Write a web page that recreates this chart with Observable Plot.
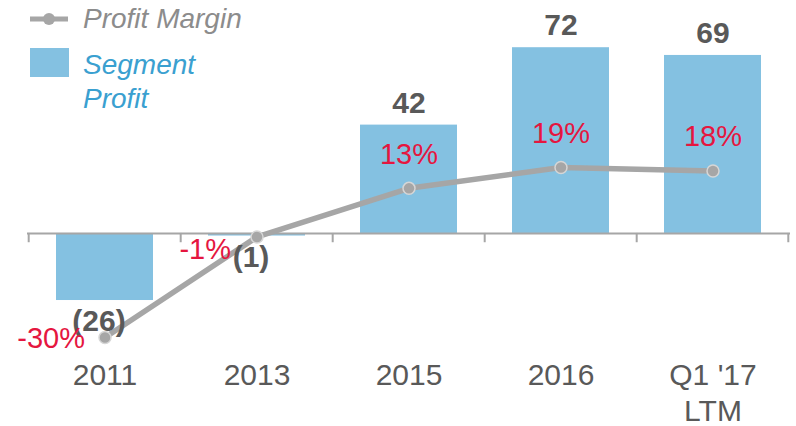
<!DOCTYPE html>
<html>
<head>
<meta charset="utf-8">
<script src="https://cdn.jsdelivr.net/npm/d3@7"></script>
<script src="https://cdn.jsdelivr.net/npm/@observablehq/plot@0.6"></script>
<style>
  html, body { margin: 0; padding: 0; background: #fff; }
  #wrap { position: relative; width: 796px; height: 426px; font-family: "Liberation Sans", Arial, sans-serif; }
  #legend { position: absolute; left: 0; top: 0; width: 260px; height: 120px; pointer-events: none; }
</style>
</head>
<body>
<div id="wrap"></div>
<script>
// ---- data ----
const categories = ["2011", "2013", "2015", "2016", "Q1 '17 LTM"];
const xLabels = ["2011", "2013", "2015", "2016", "Q1 '17\nLTM"];
const segmentProfit = [-26, -1, 42, 72, 69];
const segmentProfitLabels = ["(26)", "(1)", "42", "72", "69"];
const profitMargin = [-30, -1, 13, 19, 18];
const profitMarginLabels = ["-30%", "-1%", "13%", "19%", "18%"];
const legendLabels = ["Profit Margin", "Segment\nProfit"];

// margin (%) drawn on a secondary axis, mapped into bar units
const marginToBar = 1.345;

const rows = categories.map((c, i) => ({
  cat: c,
  label: xLabels[i],
  profit: segmentProfit[i],
  profitLabel: segmentProfitLabels[i],
  margin: profitMargin[i],
  marginY: profitMargin[i] * marginToBar,
  marginLabel: profitMarginLabels[i]
}));

const BAR = "#84c1e1";
const LINE = "#a6a6a6";
const RED = "#e5163f";
const DARK = "#595959";
const FONT = "Liberation Sans, Arial, sans-serif";
const step = (790 - 27) / categories.length;

const chart = Plot.plot({
  width: 796,
  height: 426,
  marginLeft: 27,
  marginRight: 6,
  marginTop: 0,
  marginBottom: 70,
  style: { fontFamily: FONT, background: "transparent" },
  x: { domain: categories, paddingInner: 0.364, paddingOuter: 0.182, axis: null },
  y: { domain: [-47.7, 90.3], axis: null },
  marks: [
    Plot.barY(rows, { x: "cat", y: "profit", fill: BAR }),
    Plot.ruleY([0], { stroke: "#a6a6a6", strokeWidth: 2 }),
    // category boundary ticks
    Plot.ruleX(rows, { x: "cat", dx: -step / 2, y1: 0, y2: -3.6, stroke: "#a6a6a6", strokeWidth: 2 }),
    Plot.ruleX(rows.slice(-1), { x: "cat", dx: step / 2 - 1, y1: 0, y2: -3.6, stroke: "#a6a6a6", strokeWidth: 2 }),
    // profit margin line
    Plot.line(rows, { x: "cat", y: "marginY", stroke: LINE, strokeWidth: 5.5, curve: "linear" }),
    Plot.dot(rows, { x: "cat", y: "marginY", r: 6, fill: LINE, stroke: "#d6d6d6", strokeWidth: 1.5 }),
    // segment profit labels
    Plot.text(rows.filter(d => d.profit > 0), { x: "cat", y: "profit", text: "profitLabel", dy: -22, fill: DARK, fontWeight: "bold", fontSize: 30 }),
    Plot.text(rows.filter(d => d.profit < 0), { x: "cat", y: "profit", text: "profitLabel", dx: -6, dy: 21, fill: DARK, fontWeight: "bold", fontSize: 30 }),
    // margin labels
    Plot.text(rows.filter(d => d.margin > 0), { x: "cat", y: "marginY", text: "marginLabel", dy: -34, fill: RED, fontSize: 29 }),
    Plot.text(rows.filter(d => d.margin === -1), { x: "cat", y: "marginY", text: "marginLabel", textAnchor: "end", dx: -26, dy: 13, fill: RED, fontSize: 29 }),
    Plot.text(rows.filter(d => d.margin === -30), { x: "cat", y: "marginY", text: "marginLabel", textAnchor: "end", dx: -20, dy: 1, fill: RED, fontSize: 29 }),
    // x axis labels
    Plot.text(rows, { x: "cat", text: "label", frameAnchor: "bottom", lineAnchor: "top", dy: 3, lineHeight: 1.2, fill: DARK, fontSize: 30 })
  ]
});

const wrap = document.getElementById("wrap");
wrap.appendChild(chart);

// legend overlay
const ns = "http://www.w3.org/2000/svg";
const lg = document.createElementNS(ns, "svg");
lg.setAttribute("id", "legend");
lg.setAttribute("width", 260);
lg.setAttribute("height", 120);
lg.innerHTML = `
  <line x1="30" x2="68" y1="19" y2="19" stroke="${LINE}" stroke-width="5"/>
  <circle cx="49" cy="19" r="6" fill="${LINE}"/>
  <text x="83" y="28" font-family="${FONT}" font-style="italic" font-size="28" fill="#8c8c8c">${legendLabels[0]}</text>
  <rect x="30" y="48" width="39" height="29" fill="${BAR}"/>
  <text font-family="${FONT}" font-style="italic" font-size="28" fill="#3aa0d0">
    ${legendLabels[1].split("\n").map((t, i) => `<tspan x="83" y="${74 + i * 34}">${t}</tspan>`).join("")}
  </text>`;
wrap.appendChild(lg);
</script>
</body>
</html>
